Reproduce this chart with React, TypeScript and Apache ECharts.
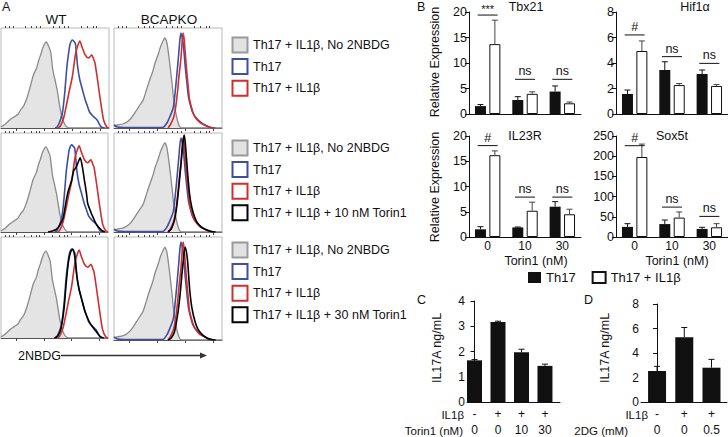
import React, { useEffect, useRef } from 'react';
import * as echarts from 'echarts';

const FONT = '"Liberation Sans", Arial, sans-serif';
const INK = '#111';

// ---------- Panel A: 2NBDG histograms, points are [axis position %, height % of box] ----------
const wtNo2NBDG = [[0,1],[4,4],[8,8],[12,11],[16,14],[18,18],[21,22],[24,30],[27,41],[30,53],[33,60],[35,68],[37,74],[39,81],[42,86],[44,82],[46,76],[48,58],[50,48],[52,38],[55,18],[58,6],[61,1],[65,0],[100,0]];
const wtTh17 = [[50,0],[52,1],[55,8],[57,16],[59,35],[61,61],[63,78],[64,84],[66,88],[68,86],[69,84],[71,61],[73,48],[75,40],[78,28],[80,22],[82,16],[85,12],[89,8],[91,4],[93,1],[96,0]];
const wtIL1b = [[53,0],[55,2],[58,10],[61,25],[63,36],[66,51],[69,74],[71,82],[73,87],[75,81],[78,73],[81,70],[83,72],[84,73],[86,68],[87,65],[89,51],[92,28],[95,8],[98,1],[100,0]];
const wtTorin10 = [[44,0],[48,1],[52,3],[55,7],[58,14],[61,32],[63,42],[66,52],[68,62],[70,65],[72,70],[74,75],[76,66],[78,52],[80,38],[81,29],[84,20],[86,15],[89,8],[92,4],[95,1],[97,0]];
const wtTorin30 = [[50,0],[53,2],[56,9],[59,30],[61,55],[63,75],[65,85],[67,88],[69,80],[71,60],[73,48],[75,40],[78,28],[80,22],[83,15],[87,9],[90,5],[93,1],[96,0]];
const koNo2NBDG = [[0,2],[3,3],[8,4],[12,6],[16,10],[21,18],[24,23],[27,28],[30,38],[33,48],[36,57],[38,65],[41,74],[43,81],[45,86],[47,90],[49,85],[51,70],[52,61],[54,42],[55,31],[58,11],[61,1],[64,0],[100,0]];
const koTh17 = [[0,3],[3,1],[10,0.5],[45,0.5],[49,5],[52,12],[55,21],[57,40],[58,51],[60,75],[61,88],[62,95],[64,85],[66,61],[68,40],[69,31],[71,22],[73,15],[77,9],[80,6],[84,3],[88,1],[92,0]];
const koIL1b = [[50,0],[52,3],[55,10],[57,20],[59,38],[60,50],[62,70],[63,85],[64,95],[65,88],[67,61],[69,38],[70,28],[73,16],[75,11],[79,6],[82,4],[86,2],[90,0.5],[94,0]];
const koTorin10 = [[50,0],[53,3],[56,12],[58,25],[60,45],[62,68],[64,92],[65,98],[66,90],[68,62],[70,38],[72,25],[75,14],[78,8],[82,4],[86,2],[90,0.5],[94,0]];
const koTorin30 = [[50,0],[53,2],[56,8],[59,25],[61,42],[63,65],[65,85],[66,90],[68,78],[70,50],[72,32],[75,18],[78,10],[82,5],[86,2],[90,0.5],[94,0]];

const histMajorTicks = [14, 40, 66, 92];
const histMinorTicks = [4, 8, 11, 22, 28, 33, 36, 48, 54, 59, 62, 74, 80, 85, 88];

const legendRow1 = ['Th17 + IL1β, No 2NBDG', 'Th17', 'Th17 + IL1β'];
const legendRow2 = ['Th17 + IL1β, No 2NBDG', 'Th17', 'Th17 + IL1β', 'Th17 + IL1β + 10 nM Torin1'];
const legendRow3 = ['Th17 + IL1β, No 2NBDG', 'Th17', 'Th17 + IL1β', 'Th17 + IL1β + 30 nM Torin1'];

// ---------- Panel B: relative expression ----------
const torinDoses = ['0', '10', '30'];
const tbx21Th17 = [1.55, 2.75, 4.4];
const tbx21Th17Sem = [0.3, 0.65, 1.1];
const tbx21IL1b = [13.7, 3.95, 2.1];
const tbx21IL1bSem = [4.7, 0.4, 0.25];
const tbx21SigY = [19.4, 6.8, 6.8];
const tbx21SigText = ['***', 'ns', 'ns'];

const hif1aTh17 = [1.57, 3.45, 3.14];
const hif1aTh17Sem = [0.31, 0.65, 0.31];
const hif1aIL1b = [4.94, 2.27, 2.2];
const hif1aIL1bSem = [0.79, 0.12, 0.12];
const hif1aSigY = [6.2, 4.5, 3.97];
const hif1aSigText = ['#', 'ns', 'ns'];

const il23rTh17 = [1.52, 1.9, 6.0];
const il23rTh17Sem = [0.52, 0.08, 1.0];
const il23rIL1b = [16.2, 5.2, 4.5];
const il23rIL1bSem = [0.85, 1.7, 1.0];
const il23rSigY = [18.1, 7.9, 7.9];
const il23rSigText = ['#', 'ns', 'ns'];

const sox5tTh17 = [25, 32, 20];
const sox5tTh17Sem = [8, 10, 4];
const sox5tIL1b = [198, 48, 24];
const sox5tIL1bSem = [32, 14, 9];
const sox5tSigY = [226, 74, 51];
const sox5tSigText = ['#', 'ns', 'ns'];

// ---------- Panel C ----------
const cIL1b = ['-', '+', '+', '+'];
const cTorin = ['0', '0', '10', '30'];
const cIL17A = [1.65, 3.17, 1.97, 1.43];
const cIL17ASem = [0.03, 0.03, 0.12, 0.07];

// ---------- Panel D ----------
const dIL1b = ['-', '+', '+'];
const d2DG = ['0', '0', '0.5'];
const dIL17A = [2.53, 5.28, 2.8];
const dIL17ASem = [0.38, 0.8, 0.68];

const histColors = ['#8a8a8a', '#3d4fa1', '#cf2f2f', '#000000'];

const histGrids = [
  { left: 1, top: 28, width: 108, height: 100, curves: [wtNo2NBDG, wtTh17, wtIL1b] },
  { left: 114, top: 28, width: 108, height: 100, curves: [koNo2NBDG, koTh17, koIL1b] },
  { left: 1, top: 133, width: 107, height: 99, curves: [wtNo2NBDG, wtTh17, wtIL1b, wtTorin10] },
  { left: 114, top: 133, width: 108, height: 99, curves: [koNo2NBDG, koTh17, koIL1b, koTorin10] },
  { left: 1, top: 237, width: 107, height: 101, curves: [wtNo2NBDG, wtTh17, wtIL1b, wtTorin30] },
  { left: 114, top: 237, width: 108, height: 103, curves: [koNo2NBDG, koTh17, koIL1b, koTorin30] },
];

const barCharts = [
  { left: 469, top: 12, width: 112, height: 102, max: 20, interval: 5, labels: false,
    th17: tbx21Th17, th17Sem: tbx21Th17Sem, il1b: tbx21IL1b, il1bSem: tbx21IL1bSem, sigY: tbx21SigY, sigText: tbx21SigText },
  { left: 616, top: 12, width: 112, height: 102, max: 8, interval: 2, labels: false,
    th17: hif1aTh17, th17Sem: hif1aTh17Sem, il1b: hif1aIL1b, il1bSem: hif1aIL1bSem, sigY: hif1aSigY, sigText: hif1aSigText },
  { left: 469, top: 136, width: 112, height: 101, max: 20, interval: 5, labels: true,
    th17: il23rTh17, th17Sem: il23rTh17Sem, il1b: il23rIL1b, il1bSem: il23rIL1bSem, sigY: il23rSigY, sigText: il23rSigText },
  { left: 616, top: 136, width: 112, height: 101, max: 250, interval: 50, labels: true,
    th17: sox5tTh17, th17Sem: sox5tTh17Sem, il1b: sox5tIL1b, il1bSem: sox5tIL1bSem, sigY: sox5tSigY, sigText: sox5tSigText },
];

function errorSeries(xi: number, yi: number, means: number[], sems: number[], side: number, color: string) {
  return {
    type: 'custom', xAxisIndex: xi, yAxisIndex: yi, z: 5, silent: true, clip: false,
    data: means.map((m, i) => [i, m, m + sems[i]]),
    renderItem: (params: any, api: any) => {
      const b = api.coord([api.value(0), api.value(1)]);
      const t = api.coord([api.value(0), api.value(2)]);
      const x = b[0] + side;
      return {
        type: 'group',
        children: [
          { type: 'line', shape: { x1: x, y1: b[1], x2: x, y2: t[1] }, style: { stroke: color, lineWidth: 1 } },
          { type: 'line', shape: { x1: x - 3, y1: t[1], x2: x + 3, y2: t[1] }, style: { stroke: color, lineWidth: 1 } },
        ],
      };
    },
  };
}

function sigSeries(xi: number, yi: number, ys: number[], texts: string[]) {
  return {
    type: 'custom', xAxisIndex: xi, yAxisIndex: yi, z: 6, silent: true, clip: false,
    data: ys.map((y, i) => [i, y]),
    renderItem: (params: any, api: any) => {
      const p = api.coord([api.value(0), api.value(1)]);
      const txt = texts[params.dataIndex];
      return {
        type: 'group',
        children: [
          { type: 'line', shape: { x1: p[0] - 10, y1: p[1], x2: p[0] + 10, y2: p[1] }, style: { stroke: INK, lineWidth: 1 } },
          { type: 'text', x: p[0], y: p[1] - (txt === '***' ? 6 : 8),
            style: { text: txt, fill: INK, fontSize: txt === '***' ? 11 : 12.5, fontFamily: FONT, align: 'center', verticalAlign: 'middle' } },
        ],
      };
    },
  };
}

function buildOption() {
  const grid: any[] = [];
  const xAxis: any[] = [];
  const yAxis: any[] = [];
  const series: any[] = [];

  // Panel A
  histGrids.forEach((h, g) => {
    grid.push({ left: h.left, top: h.top, width: h.width, height: h.height, show: true, borderColor: '#b8b8b8', borderWidth: 1 });
    xAxis.push({ type: 'value', gridIndex: g, min: 0, max: 100,
      axisLine: { show: true, lineStyle: { color: '#555', width: 1 } },
      axisTick: { show: true, customValues: histMajorTicks, length: 3, lineStyle: { color: '#444' } },
      axisLabel: { show: false }, splitLine: { show: false } });
    xAxis.push({ type: 'value', gridIndex: g, min: 0, max: 100,
      axisLine: { show: false },
      axisTick: { show: true, customValues: histMinorTicks, length: 2, lineStyle: { color: '#444' } },
      axisLabel: { show: false }, splitLine: { show: false } });
    yAxis.push({ type: 'value', gridIndex: g, min: 0, max: 100, show: false });
    h.curves.forEach((c, k) => {
      series.push({
        type: 'line', xAxisIndex: 2 * g, yAxisIndex: g, data: c, symbol: 'none', smooth: 0.25,
        lineStyle: { color: histColors[k], width: k === 0 ? 1.3 : 1.6 },
        areaStyle: k === 0 ? { color: '#e4e4e4', opacity: 1 } : undefined,
        z: 2 + k, silent: true,
      });
    });
  });

  // Panel B
  barCharts.forEach((b, j) => {
    const g = 6 + j;
    const xi = xAxis.length;
    grid.push({ left: b.left, top: b.top, width: b.width, height: b.height });
    xAxis.push({ type: 'category', gridIndex: g, data: torinDoses,
      axisLine: { lineStyle: { color: INK, width: 1 } },
      axisTick: { alignWithLabel: true, length: 4, lineStyle: { color: INK } },
      axisLabel: { show: b.labels, fontSize: 12, color: INK, fontFamily: FONT, margin: 3 } });
    yAxis.push({ type: 'value', gridIndex: g, min: 0, max: b.max, interval: b.interval,
      axisLine: { show: true, lineStyle: { color: INK, width: 1 } },
      axisTick: { show: true, length: 4, lineStyle: { color: INK } },
      axisLabel: { fontSize: 12.5, color: INK, fontFamily: FONT, margin: 2 },
      splitLine: { show: false } });
    series.push({ type: 'bar', name: 'Th17', xAxisIndex: xi, yAxisIndex: g, data: b.th17, barWidth: 11, barGap: '31%',
      itemStyle: { color: INK }, silent: true });
    series.push({ type: 'bar', name: 'Th17 + IL1β', xAxisIndex: xi, yAxisIndex: g, data: b.il1b, barWidth: 11, barGap: '31%',
      itemStyle: { color: '#fff', borderColor: INK, borderWidth: 1 }, silent: true });
    series.push(errorSeries(xi, g, b.th17, b.th17Sem, -7.2, INK));
    series.push(errorSeries(xi, g, b.il1b, b.il1bSem, 7.2, '#444'));
    series.push(sigSeries(xi, g, b.sigY, b.sigText));
  });

  // Panel C
  {
    const g = 10;
    const xi = xAxis.length;
    grid.push({ left: 467, top: 301, width: 93, height: 101 });
    const idx = cIL17A.map((_, i) => i);
    xAxis.push({ type: 'value', gridIndex: g, min: -0.32, max: 3.64,
      axisLine: { show: true, onZero: false, lineStyle: { color: INK } }, axisTick: { show: false },
      axisLabel: { customValues: idx, formatter: (v: number) => cIL1b[Math.round(v)] ?? '', fontSize: 12, color: INK, fontFamily: FONT, margin: 6 },
      splitLine: { show: false } });
    xAxis.push({ type: 'value', gridIndex: g, min: -0.32, max: 3.64, position: 'bottom', offset: 16,
      axisLine: { show: false }, axisTick: { show: false },
      axisLabel: { customValues: idx, formatter: (v: number) => cTorin[Math.round(v)] ?? '', fontSize: 12, color: INK, fontFamily: FONT, margin: 6 },
      splitLine: { show: false } });
    yAxis.push({ type: 'value', gridIndex: g, min: 0, max: 4, interval: 1,
      axisLine: { show: true, lineStyle: { color: INK } }, axisTick: { show: true, length: 4, lineStyle: { color: INK } },
      axisLabel: { fontSize: 12, color: INK, fontFamily: FONT, margin: 2 }, splitLine: { show: false } });
    series.push({ type: 'bar', xAxisIndex: xi, yAxisIndex: g, data: cIL17A.map((v, i) => [i, v]), barWidth: 15,
      itemStyle: { color: INK }, silent: true });
    series.push(errorSeries(xi, g, cIL17A, cIL17ASem, 0, INK));
  }

  // Panel D
  {
    const g = 11;
    const xi = xAxis.length;
    grid.push({ left: 641, top: 304, width: 86, height: 98 });
    const idx = dIL17A.map((_, i) => i);
    xAxis.push({ type: 'value', gridIndex: g, min: -0.59, max: 2.57,
      axisLine: { show: true, onZero: false, lineStyle: { color: INK } }, axisTick: { show: false },
      axisLabel: { customValues: idx, formatter: (v: number) => dIL1b[Math.round(v)] ?? '', fontSize: 12, color: INK, fontFamily: FONT, margin: 6 },
      splitLine: { show: false } });
    xAxis.push({ type: 'value', gridIndex: g, min: -0.59, max: 2.57, position: 'bottom', offset: 16,
      axisLine: { show: false }, axisTick: { show: false },
      axisLabel: { customValues: idx, formatter: (v: number) => d2DG[Math.round(v)] ?? '', fontSize: 12, color: INK, fontFamily: FONT, margin: 6 },
      splitLine: { show: false } });
    yAxis.push({ type: 'value', gridIndex: g, min: 0, max: 8, interval: 2,
      axisLine: { show: true, lineStyle: { color: INK } }, axisTick: { show: true, length: 4, lineStyle: { color: INK } },
      axisLabel: { fontSize: 12, color: INK, fontFamily: FONT, margin: 2 }, splitLine: { show: false } });
    series.push({ type: 'bar', xAxisIndex: xi, yAxisIndex: g, data: dIL17A.map((v, i) => [i, v]), barWidth: 18,
      itemStyle: { color: INK }, silent: true });
    series.push(errorSeries(xi, g, dIL17A, dIL17ASem, 0, INK));
  }

  // Graphic texts / legends
  const txt = (text: string, x: number, y: number, size: number, align = 'left', rotation = 0) => ({
    type: 'text', x, y, rotation, silent: true,
    style: { text, fill: INK, fontSize: size, fontFamily: FONT, align, verticalAlign: 'middle' },
  });
  const graphic: any[] = [];
  graphic.push(txt('A', 2, 7, 12.5));
  graphic.push(txt('WT', 56, 19, 13.5, 'center'));
  graphic.push(txt('BCAPKO', 169, 19, 13.5, 'center'));
  graphic.push(txt('B', 417, 7, 12.5));
  graphic.push(txt('C', 417, 300, 12.5));
  graphic.push(txt('D', 584, 300, 12.5));

  const legendBlocks = [
    { y: 45, items: legendRow1 },
    { y: 148, items: legendRow2 },
    { y: 250, items: legendRow3 },
  ];
  const squareFill = ['#e2e2e2', '#fff', '#fff', '#fff'];
  const squareStroke = ['#9a9a9a', '#3d4fa1', '#cf2f2f', '#000'];
  legendBlocks.forEach((blk) => {
    blk.items.forEach((label, i) => {
      const cy = blk.y + i * 21.6;
      graphic.push({ type: 'rect', silent: true, shape: { x: 232.5, y: cy - 7.5, width: 15, height: 15 },
        style: { fill: squareFill[i], stroke: squareStroke[i], lineWidth: 2 } });
      graphic.push(txt(label, 253, cy, 12.5));
    });
  });

  // 2NBDG arrow
  graphic.push(txt('2NBDG', 18, 356, 12.5));
  graphic.push({ type: 'line', silent: true, shape: { x1: 61, y1: 355.5, x2: 202, y2: 355.5 }, style: { stroke: '#333', lineWidth: 1.3 } });
  graphic.push({ type: 'polygon', silent: true, shape: { points: [[207, 355.5], [200, 352.5], [200, 358.5]] }, style: { fill: '#333' } });

  // Panel B titles
  graphic.push(txt('Tbx21', 526, 7, 12.5, 'center'));
  graphic.push(txt('Hif1α', 695, 7, 12.5, 'center'));
  graphic.push(txt('IL23R', 525, 136, 12.5, 'center'));
  graphic.push(txt('Sox5t', 672, 136, 12.5, 'center'));
  graphic.push(txt('Relative Expression', 435, 62, 12.5, 'center', Math.PI / 2));
  graphic.push(txt('Relative Expression', 435, 187, 12.5, 'center', Math.PI / 2));
  graphic.push(txt('Torin1 (nM)', 536, 260.5, 12.5, 'center'));
  graphic.push(txt('Torin1 (nM)', 677, 260.5, 12.5, 'center'));

  // Panel C / D labels
  graphic.push(txt('IL17A ng/mL', 437, 348, 12.5, 'center', Math.PI / 2));
  graphic.push(txt('IL17A ng/mL', 605, 348, 12.5, 'center', Math.PI / 2));
  graphic.push(txt('IL1β', 464, 415, 11.5, 'right'));
  graphic.push(txt('Torin1 (nM)', 463, 430.5, 11.5, 'right'));
  graphic.push(txt('IL1β', 648, 415, 11.5, 'right'));
  graphic.push(txt('2DG (mM)', 628, 430.5, 11.5, 'right'));

  return {
    animation: false,
    backgroundColor: '#fff',
    textStyle: { fontFamily: FONT },
    legend: {
      data: ['Th17', 'Th17 + IL1β'], left: 528, top: 271, itemWidth: 13, itemHeight: 11, itemGap: 16,
      icon: 'rect', selectedMode: false, padding: 0,
      textStyle: { fontSize: 13, color: INK, fontFamily: FONT },
    },
    grid, xAxis, yAxis, series, graphic,
  };
}

export default function App() {
  const ref = useRef<HTMLDivElement>(null);
  useEffect(() => {
    if (!ref.current) return;
    const chart = echarts.init(ref.current, undefined, { renderer: 'svg' });
    chart.setOption(buildOption() as any);
    return () => chart.dispose();
  }, []);
  return <div ref={ref} style={{ position: 'fixed', left: 0, top: 0, width: 728, height: 437 }} />;
}
